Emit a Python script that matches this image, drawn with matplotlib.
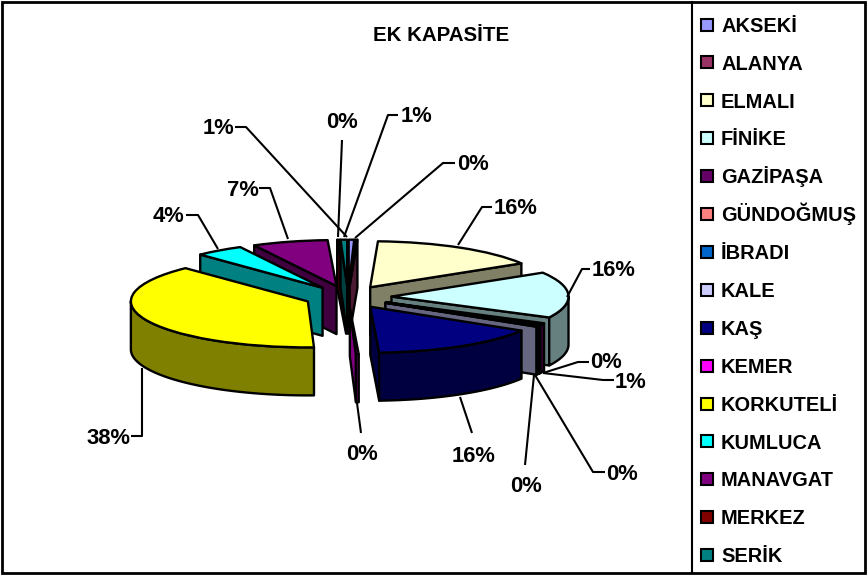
import numpy as np
import matplotlib
matplotlib.use("Agg")
import matplotlib.pyplot as plt
from matplotlib.colors import to_rgb
from matplotlib.patches import Polygon, Rectangle

names = ["AKSEKİ", "ALANYA", "ELMALI", "FİNİKE", "GAZİPAŞA", "GÜNDOĞMUŞ", "İBRADI", "KALE",
         "KAŞ", "KEMER", "KORKUTELİ", "KUMLUCA", "MANAVGAT", "MERKEZ", "SERİK"]
values = [0.5, 0.2, 15.6, 16.2, 0.7, 0.1, 0.1, 0.3, 15.5, 0.25, 38.4, 4.45, 6.9, 0.2, 0.6]
colors = ["#9999FF", "#993366", "#FFFFCC", "#CCFFFF", "#660066", "#FF8080", "#0066CC", "#CCCCFF",
          "#000080", "#FF00FF", "#FFFF00", "#00FFFF", "#800080", "#800000", "#008080"]
title = "EK KAPASİTE"

# layout (pixels)
W, H = 867, 575
CX, CY, RX, RY, DEPTH, EXPLODE = 348, 297, 177, 46, 48, 0.246
draw_order = [13, 14, 0, 1, 2, 12, 11, 10, 3, 4, 5, 6, 7, 8, 9]
label_xy = [(401, 117), (457, 165), (494, 209), (592, 271), (615, 382), (590, 363), (606, 474),
            (510, 486), (452, 457), (346, 455), (87, 438), (153, 217), (227, 191), (326, 123), (203, 128)]
leaders = [[(398, 115), (388, 115), (344, 237)],
           [(455, 163), (443, 163), (355, 238)],
           [(492, 207), (482, 207), (458, 245)],
           [(590, 269), (582, 269), (567, 297)],
           [(614, 380), (603, 380), (543, 373)],
           [(589, 362), (578, 362), (543, 373)],
           [(605, 472), (593, 472), (535, 375)],
           [(525, 465), (534, 375)],
           [(472, 433), (460, 397)],
           [(361, 433), (357, 403)],
           [(131, 436), (142, 436), (142, 368)],
           [(186, 215), (198, 215), (218, 249)],
           [(259, 188), (270, 188), (288, 239)],
           [(342, 140), (338, 237)],
           [(235, 127), (246, 127), (347, 237)]]
LEG_Y0, LEG_DY = 24.5, 37.9

plt.rcParams["font.family"] = ["Liberation Sans", "DejaVu Sans"]
plt.rcParams["font.weight"] = "bold"
fig = plt.figure(figsize=(W / 100, H / 100), dpi=100)
ax = fig.add_axes([0, 0, 1, 1])
EDGE = dict(edgecolor="black", linewidth=1.7, joinstyle="round")

wedges, _ = ax.pie(values, explode=[EXPLODE] * len(values), colors=colors, startangle=90,
                   counterclock=False, wedgeprops=EDGE)
ax.set_aspect("auto")
ax.set_xlim(-CX / RX, (W - CX) / RX)
ax.set_ylim((CY - H) / RY, CY / RY)
ax.set_frame_on(False)

depth = DEPTH / RY


def face(points, colour, z):
    pts = np.asarray(points)
    low = pts[::-1] - [0, depth]
    ax.add_patch(Polygon(np.vstack([pts, low]), closed=True, facecolor=colour, zorder=z, **EDGE))


for rank, i in enumerate(draw_order):
    w = wedges[i]
    dark = tuple(c * 0.5 for c in to_rgb(colors[i]))
    z = 5 + rank * 3
    c = np.asarray(w.center)
    # cut faces that look towards the viewer
    if np.cos(np.radians(w.theta1)) > 0:
        a = np.radians(w.theta1)
        face([c, c + [np.cos(a), np.sin(a)]], dark, z)
    if np.cos(np.radians(w.theta2)) < 0:
        a = np.radians(w.theta2)
        face([c, c + [np.cos(a), np.sin(a)]], dark, z)
    # outer rim, front half only
    lo, hi = max(w.theta1, -180), min(w.theta2, 0)
    if hi > lo:
        t = np.radians(np.linspace(lo, hi, 80))
        face(c + np.column_stack([np.cos(t), np.sin(t)]), dark, z + 1)
    w.set_zorder(z + 2)

ov = fig.add_axes([0, 0, 1, 1], facecolor="none")
ov.set_xlim(0, W)
ov.set_ylim(H, 0)
ov.axis("off")

for line in leaders:
    xs, ys = zip(*line)
    ov.plot(xs, ys, color="black", lw=1.5, solid_capstyle="butt")
for v, (x, y) in zip(values, label_xy):
    ov.text(x, y, f"{int(v + 0.5)}%", fontsize=15.8, fontweight="bold", ha="left", va="center")

ov.text(441, 41, title, fontsize=14.8, fontweight="bold", ha="center", va="baseline")

ov.add_patch(Rectangle((1.5, 2), W - 4, H - 4, fill=False, edgecolor="black", lw=2))
ov.plot([692, 692], [2, H - 2], color="black", lw=1.5)

for k, (name, colour) in enumerate(zip(names, colors)):
    y = LEG_Y0 + LEG_DY * k
    ov.add_patch(Rectangle((700.5, y - 6), 12, 12, facecolor=colour, edgecolor="black", lw=1.5))
    ov.text(721, y + 7.2, name, fontsize=14.4, fontweight="bold", ha="left", va="baseline")

fig.savefig("out.png", dpi=100)
